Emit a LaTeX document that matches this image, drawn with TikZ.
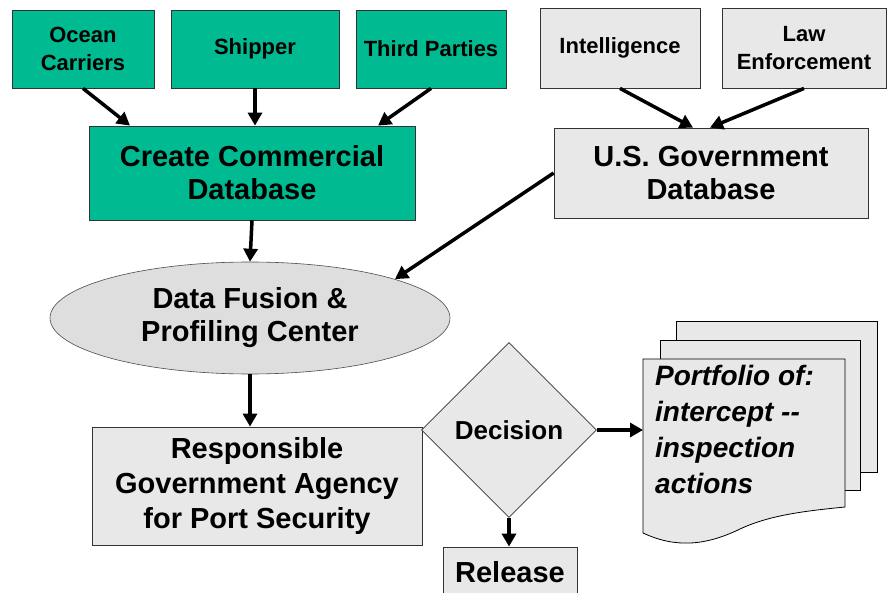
\documentclass[tikz,border=0pt]{standalone}
\usepackage{fontspec}
\setmainfont{Liberation Sans}
\usetikzlibrary{arrows.meta,shapes.geometric}
\definecolor{GreenClr}{RGB}{0,186,145}
\definecolor{PaperClr}{RGB}{232,232,232}
\definecolor{FusionClr}{RGB}{222,222,222}

\tikzset{
  srcbox/.style={draw=black!80,line width=0.8pt,fill=#1,minimum height=78pt,
    align=center,inner sep=2pt,font=\bfseries\fontsize{22}{28}\selectfont},
  bigbox/.style={draw=black!80,line width=0.8pt,fill=#1,align=center,
    font=\bfseries\fontsize{29}{33}\selectfont},
  arr/.style={line width=3.5pt,-{Triangle[length=13pt,width=14pt]}}
}

\begin{document}
\begin{tikzpicture}[x=1pt,y=-1pt]
\useasboundingbox (0,0) rectangle (889,593);

% sources
\node[srcbox=GreenClr,minimum width=142pt] (ocean) at (83,49) {Ocean\\Carriers};
\node[srcbox=GreenClr,minimum width=168pt] (ship) at (255,49) {Shipper};
\node[srcbox=GreenClr,minimum width=150pt] (third) at (431,49) {Third Parties};
\node[srcbox=PaperClr,minimum width=160pt,minimum height=80pt] (intel) at (620,48) {Intelligence};
\node[srcbox=PaperClr,minimum width=164pt,minimum height=80pt] (law) at (804,48) {Law\\Enforcement};

% databases
\node[bigbox=GreenClr,minimum width=326pt,minimum height=94pt] (comm) at (252,173) {Create Commercial\\Database};
\node[bigbox=PaperClr,minimum width=314pt,minimum height=90pt] (gov) at (711,173) {U.S. Government\\Database};

\node[ellipse,draw=black!70,line width=0.6pt,fill=FusionClr,minimum width=400pt,minimum height=112pt,
  align=center,font=\bfseries\fontsize{29}{33}\selectfont] (fusion) at (250,318) {Data Fusion \&\\Profiling Center};

\node[bigbox=PaperClr,minimum width=330pt,minimum height=118pt,
  font=\bfseries\fontsize{29}{35}\selectfont] (resp) at (257,486) {Responsible\\Government Agency\\for Port Security};

\node[diamond,aspect=1,draw=black!80,line width=0.6pt,fill=PaperClr,minimum width=175pt,minimum height=175pt,
  inner sep=0pt,font=\bfseries\fontsize{26}{30}\selectfont] (dec) at (509,430) {Decision};

\node[bigbox=PaperClr,minimum width=134pt,minimum height=50pt] (rel) at (510,572) {Release};

% stacked documents
\draw[line width=0.8pt,fill=PaperClr] (676,321) rectangle (877,472);
\draw[line width=0.8pt,fill=PaperClr] (660,340) rectangle (860,490);
\draw[line width=0.8pt,fill=PaperClr] (643,359) -- (845,359) -- (845,507)
  .. controls (805,511) and (770,515) .. (740,529)
  .. controls (705,546) and (675,548) .. (643,533) -- cycle;
\node[anchor=north west,align=left,inner sep=0pt,
  font=\bfseries\itshape\fontsize{28}{36}\selectfont] (port) at (655,365) {Portfolio of:\\intercept -{}-\\inspection\\actions};
\coordinate (doc) at (643,433);

% connectors
\draw[arr] (ocean.south) -- ([xshift=-122pt]comm.north);
\draw[arr] (ship.south) -- (ship.south |- comm.north);
\draw[arr] (third.south) -- ([xshift=126pt]comm.north);
\draw[arr] (intel.south) -- ([xshift=-18pt]gov.north);
\draw[arr] (law.south) -- ([xshift=-1pt]gov.north);
\draw[arr] (comm.south) -- (fusion.north);
\draw[arr] (gov.west) -- (fusion.15);
\draw[arr] (fusion.south) -- (fusion.south |- resp.north);
\draw[arr] (dec.east) -- (dec.east -| doc);
\draw[arr] (dec.south) -- (dec.south |- rel.north);

\end{tikzpicture}
\end{document}
